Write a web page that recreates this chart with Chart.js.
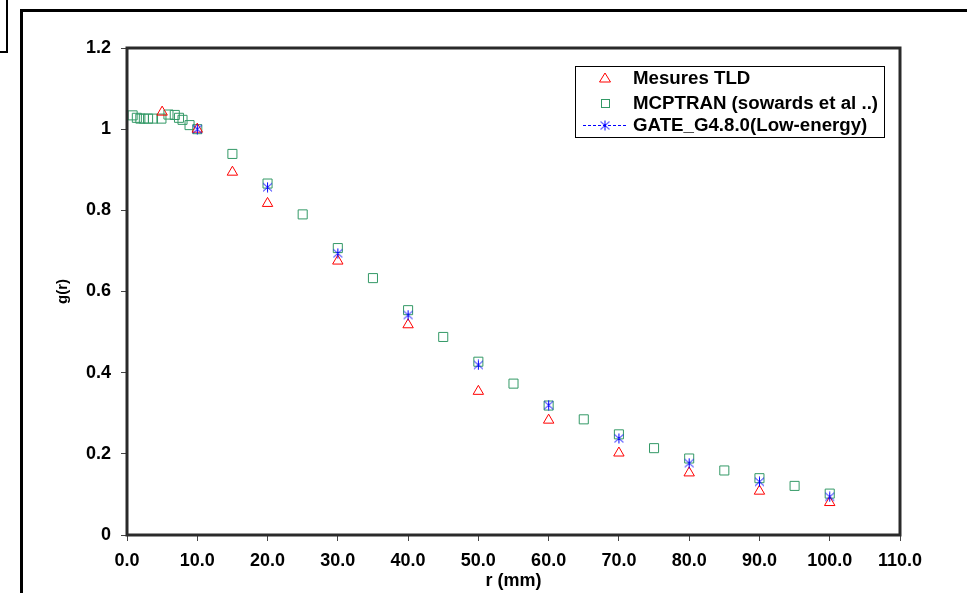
<!DOCTYPE html>
<html>
<head>
<meta charset="utf-8">
<script src="https://cdn.jsdelivr.net/npm/chart.js@4.4.1/dist/chart.umd.min.js"></script>
<style>
  html, body { margin: 0; padding: 0; background: #fff; }
  #wrap { position: relative; width: 967px; height: 593px; overflow: hidden; }
  #corner { position: absolute; left: -2px; top: -2px; width: 8px; height: 53px;
            border-right: 2px solid #000; border-bottom: 2px solid #000; }
  #frame { position: absolute; left: 20px; top: 9px; width: 1000px; height: 700px;
           border-left: 3px solid #000; border-top: 3px solid #000; }
  #myChart { position: absolute; left: 0; top: 0; }
</style>
</head>
<body>
<div id="wrap">
  <div id="corner"></div>
  <div id="frame"></div>
  <canvas id="myChart" width="967" height="593"></canvas>
</div>
<script>
// series (r in mm, g(r))
const seriesLabels = ['Mesures TLD', 'MCPTRAN (sowards et al ..)', 'GATE_G4.8.0(Low-energy)'];

const tldR = [5, 10, 15, 20, 30, 40, 50, 60, 70, 80, 90, 100];
const tldG = [1.042, 1.0, 0.894, 0.817, 0.675, 0.518, 0.354, 0.283, 0.202, 0.153, 0.108, 0.08];

const mcptR = [0.8, 1.4, 1.9, 2.4, 3, 3.7, 4.9, 5.9, 6.8, 7.4, 7.9, 8.9, 10,
               15, 20, 25, 30, 35, 40, 45, 50, 55, 60, 65, 70, 75, 80, 85, 90, 95, 100];
const mcptG = [1.034, 1.028, 1.026, 1.026, 1.026, 1.026, 1.026, 1.036, 1.035, 1.028, 1.023, 1.01, 1.0,
               0.939, 0.866, 0.79, 0.707, 0.633, 0.554, 0.488, 0.427, 0.373, 0.319, 0.285, 0.248,
               0.214, 0.1885, 0.159, 0.14, 0.121, 0.102];

const gateR = [10, 20, 30, 40, 50, 60, 70, 80, 90, 100];
const gateG = [1.0, 0.857, 0.694, 0.542, 0.419, 0.32, 0.238, 0.177, 0.131, 0.094];

const xTickLabels = ['0.0', '10.0', '20.0', '30.0', '40.0', '50.0', '60.0', '70.0', '80.0', '90.0', '100.0', '110.0'];
const yTickLabels = ['0', '0.2', '0.4', '0.6', '0.8', '1', '1.2'];

const RED = '#ff0000';
const GREEN = '#339966';
const BLUE = '#0000ff';
const FONT = '"Liberation Sans", Arial, sans-serif';

function toPoints(xs, ys) {
  return xs.map((x, i) => ({ x: x, y: ys[i] }));
}

// Excel-like asterisk marker (x with a vertical bar)
function makeAsterisk(size, color) {
  const c = document.createElement('canvas');
  c.width = size; c.height = size;
  const g = c.getContext('2d');
  const m = size / 2;
  g.strokeStyle = color;
  g.lineWidth = 1;
  g.beginPath();
  g.moveTo(m, 0.5); g.lineTo(m, size - 0.5);
  g.moveTo(1, 1.5); g.lineTo(size - 1, size - 1.5);
  g.moveTo(size - 1, 1.5); g.lineTo(1, size - 1.5);
  g.stroke();
  return c;
}
const asterisk = makeAsterisk(11, BLUE);

// plot box (all four sides)
const plotBox = {
  id: 'plotBox',
  afterDatasetsDraw(chart) {
    const { ctx, chartArea: a } = chart;
    ctx.save();
    ctx.strokeStyle = '#2a2a2a';
    ctx.lineWidth = 3;
    ctx.strokeRect(a.left, a.top, a.right - a.left, a.bottom - a.top);
    ctx.restore();
  }
};

// legend box drawn inside the plot, top right
const boxLegend = {
  id: 'boxLegend',
  afterDraw(chart) {
    const { ctx, chartArea: a } = chart;
    const left = a.right - 325, top = a.top + 18, w = 309, h = 71;
    ctx.save();
    ctx.fillStyle = '#fff';
    ctx.fillRect(left, top, w, h);
    ctx.strokeStyle = '#000';
    ctx.lineWidth = 1;
    ctx.strokeRect(left + 0.5, top + 0.5, w, h);

    const rows = [top + 12, top + 37, top + 59];
    const mx = left + 30;

    // triangle
    ctx.strokeStyle = RED;
    ctx.beginPath();
    ctx.moveTo(mx, rows[0] - 5);
    ctx.lineTo(mx + 5.5, rows[0] + 4);
    ctx.lineTo(mx - 5.5, rows[0] + 4);
    ctx.closePath();
    ctx.stroke();

    // square
    ctx.strokeStyle = GREEN;
    ctx.strokeRect(mx - 3.5, rows[1] - 3.5, 8, 8);

    // dashed line + asterisk
    ctx.strokeStyle = BLUE;
    ctx.setLineDash([3, 2]);
    ctx.beginPath();
    ctx.moveTo(left + 8, rows[2] + 0.5);
    ctx.lineTo(left + 52, rows[2] + 0.5);
    ctx.stroke();
    ctx.setLineDash([]);
    ctx.drawImage(asterisk, mx - 5.5, rows[2] - 5);

    ctx.fillStyle = '#000';
    ctx.font = 'bold 18.7px ' + FONT;
    ctx.textBaseline = 'middle';
    ctx.textAlign = 'left';
    seriesLabels.forEach((t, i) => ctx.fillText(t, left + 58, rows[i] + 1));
    ctx.restore();
  }
};

const ctx = document.getElementById('myChart').getContext('2d');
const myChart = new Chart(ctx, {
  type: 'scatter',
  data: {
    datasets: [
      {
        label: seriesLabels[2],
        data: toPoints(gateR, gateG),
        pointStyle: asterisk,
        order: 0
      },
      {
        label: seriesLabels[0],
        data: toPoints(tldR, tldG),
        pointStyle: 'triangle',
        pointRadius: 6,
        borderColor: RED,
        backgroundColor: 'rgba(0,0,0,0)',
        borderWidth: 1,
        order: 1
      },
      {
        label: seriesLabels[1],
        data: toPoints(mcptR, mcptG),
        pointStyle: 'rect',
        pointRadius: 6.4,
        borderColor: GREEN,
        backgroundColor: 'rgba(0,0,0,0)',
        borderWidth: 1,
        order: 2
      }
    ]
  },
  options: {
    responsive: false,
    animation: false,
    events: [],
    layout: { padding: { left: 0, top: 48, right: 67, bottom: 0 } },
    plugins: {
      legend: { display: false },
      tooltip: { enabled: false }
    },
    scales: {
      x: {
        type: 'linear',
        min: 0,
        max: 110,
        afterFit: s => { s.height = 58; },
        afterBuildTicks: s => { s.ticks = xTickLabels.map((t, i) => ({ value: i * 10 })); },
        ticks: {
          callback: (v, i) => xTickLabels[i],
          font: { family: FONT, size: 18, weight: 'bold' },
          color: '#000',
          padding: 9,
          maxRotation: 0,
          autoSkip: false
        },
        grid: { drawOnChartArea: false, tickLength: 6, color: '#444', lineWidth: 1 },
        border: { display: false },
        title: {
          display: true,
          text: 'r (mm)',
          color: '#000',
          font: { family: FONT, size: 18, weight: 'bold' },
          padding: { top: 0, bottom: 1 }
        }
      },
      y: {
        type: 'linear',
        min: 0,
        max: 1.2,
        afterFit: s => { s.width = 127; },
        afterBuildTicks: s => { s.ticks = yTickLabels.map(t => ({ value: parseFloat(t) })); },
        ticks: {
          callback: (v, i) => yTickLabels[i],
          font: { family: FONT, size: 18, weight: 'bold' },
          color: '#000',
          padding: 10,
          autoSkip: false
        },
        grid: { drawOnChartArea: false, tickLength: 6, color: '#444', lineWidth: 1 },
        border: { display: false },
        title: {
          display: true,
          text: 'g(r)',
          color: '#000',
          font: { family: FONT, size: 15, weight: 'bold' },
          padding: { top: 54, bottom: 0 }
        }
      }
    }
  },
  plugins: [plotBox, boxLegend]
});
</script>
</body>
</html>
